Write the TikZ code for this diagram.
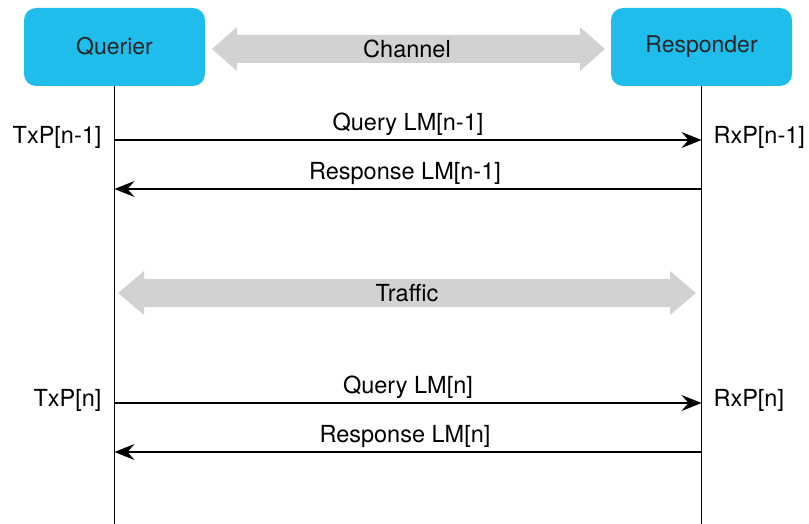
\documentclass[tikz,border=0pt]{standalone}
\usepackage{fontspec}
\setmainfont{TeX Gyre Heros}
\usetikzlibrary{arrows.meta}
\definecolor{boxcyan}{HTML}{1FBDEC}
\definecolor{bandgray}{HTML}{D1D2D4}

\begin{document}
\begin{tikzpicture}[x=1pt,y=-1pt,
  actor/.style={fill=boxcyan,rounded corners=12pt,minimum width=181pt,minimum height=78pt,inner sep=0pt,font=\fontsize{23}{26}\selectfont,text=black!85},
  life/.style={line width=1.5pt},
  msg/.style={line width=1.5pt,-{Stealth[length=20pt,width=16pt,inset=7pt]}},
  band/.style={fill=bandgray},
  lbl/.style={font=\fontsize{23.5}{26}\selectfont}]
\useasboundingbox (0,0) rectangle (809,524);
% participants
\node[actor] (querier) at (114.5,47) {Querier};
\node[actor] (responder) at (701.5,47) {Responder};
\coordinate (qend) at (114.5,524);
\coordinate (rend) at (701.5,524);
\draw[life] (querier) -- (qend);
\draw[life] (responder) -- (rend);
% channel band
\fill[band] (212,49) -- (237,27) -- (237,35) -- (580,35) -- (580,27) -- (605,49)
  -- (580,71) -- (580,63) -- (237,63) -- (237,71) -- cycle;
\node[lbl] (chan) at (407,49) {Channel};
% first exchange
\coordinate (q1) at (114.5,140);
\coordinate (r1) at (701.5,140);
\coordinate (q2) at (114.5,189);
\coordinate (r2) at (701.5,189);
\node[lbl,anchor=east] (txpA) at (105,137) {TxP[n-1]};
\node[lbl,anchor=west] (rxpA) at (710,137) {RxP[n-1]};
\draw[msg] (q1) -- node[lbl,above=0pt] (qryA) {Query LM[n-1]} (r1);
\draw[msg] (r2) -- node[lbl,above=0pt,xshift=-3pt] (rspA) {Response LM[n-1]} (q2);
% traffic band
\fill[band] (118,293) -- (144,271) -- (144,279) -- (670,279) -- (670,271) -- (696,293)
  -- (670,315) -- (670,307) -- (144,307) -- (144,315) -- cycle;
\node[lbl] (traffic) at (407,293) {Traffic};
% second exchange
\coordinate (q3) at (114.5,403);
\coordinate (r3) at (701.5,403);
\coordinate (q4) at (114.5,452);
\coordinate (r4) at (701.5,452);
\node[lbl,anchor=east] (txpB) at (105,400) {TxP[n]};
\node[lbl,anchor=west] (rxpB) at (710,400) {RxP[n]};
\draw[msg] (q3) -- node[lbl,above=0pt] (qryB) {Query LM[n]} (r3);
\draw[msg] (r4) -- node[lbl,above=0pt,xshift=-3pt] (rspB) {Response LM[n]} (q4);
\end{tikzpicture}
\end{document}
